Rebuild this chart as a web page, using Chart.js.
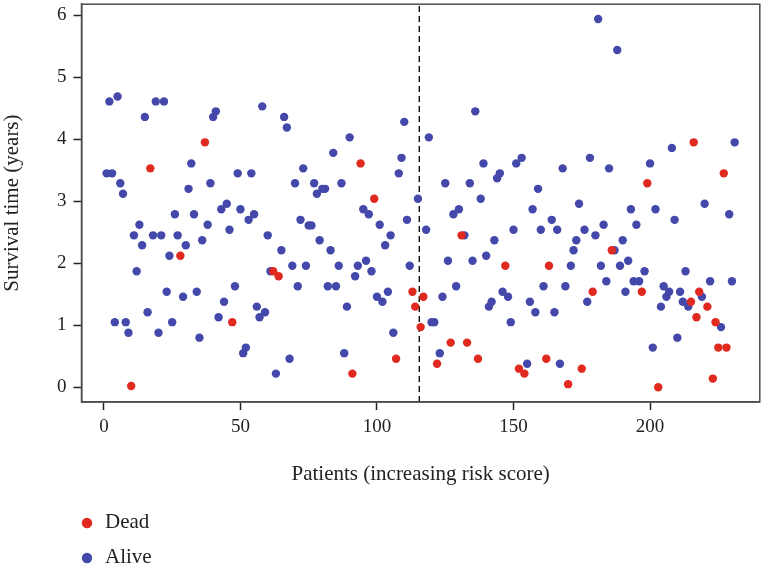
<!DOCTYPE html>
<html>
<head>
<meta charset="utf-8">
<title>Survival time by patient risk score</title>
<script src="https://cdn.jsdelivr.net/npm/chart.js@4.4.0/dist/chart.umd.min.js"></script>
<style>
  html, body { margin: 0; padding: 0; background: #fff; }
</style>
</head>
<body>
<canvas id="riskChart" width="764" height="572"></canvas>
<script>
// Survival time (years) per patient, patients sorted by increasing risk score
const survivalYears = [
  3.45, 4.61, 3.45, 1.05, 4.69, 3.29, 3.12, 1.05, 0.88, 0.02,
  2.45, 1.87, 2.62, 2.29, 4.36, 1.21, 3.53, 2.45, 4.61, 0.88,
  2.45, 4.61, 1.54, 2.12, 1.05, 2.79, 2.45, 2.12, 1.46, 2.29,
  3.20, 3.61, 2.79, 1.54, 0.80, 2.37, 3.95, 2.62, 3.29, 4.36,
  4.45, 1.13, 2.87, 1.38, 2.96, 2.54, 1.05, 1.63, 3.45, 2.87,
  0.55, 0.64, 2.70, 3.45, 2.79, 1.30, 1.13, 4.53, 1.21, 2.45,
  1.87, 1.87, 0.22, 1.79, 2.21, 4.36, 4.19, 0.46, 1.96, 3.29,
  1.63, 2.70, 3.53, 1.96, 2.61, 2.61, 3.29, 3.12, 2.37, 3.20,
  3.20, 1.63, 2.21, 3.78, 1.63, 1.96, 3.29, 0.55, 1.30, 4.03,
  0.22, 1.79, 1.96, 3.61, 2.87, 2.04, 2.79, 1.87, 3.04, 1.46,
  2.62, 1.38, 2.29, 1.54, 2.45, 0.88, 0.46, 3.45, 3.70, 4.28,
  2.70, 1.96, 1.54, 1.30, 3.04, 0.97, 1.46, 2.54, 4.03, 1.05,
  1.05, 0.38, 0.55, 1.46, 3.29, 2.04, 0.72, 2.79, 1.63, 2.87,
  2.45, 2.45, 0.72, 3.29, 2.04, 4.45, 0.46, 3.04, 3.61, 2.12,
  1.30, 1.38, 2.37, 3.37, 3.45, 1.54, 1.96, 1.46, 1.05, 2.54,
  3.61, 0.30, 3.70, 0.22, 0.38, 1.38, 2.87, 1.21, 3.20, 2.54,
  1.63, 0.46, 1.96, 2.70, 1.21, 2.54, 0.38, 3.53, 1.63, 0.05,
  1.96, 2.21, 2.37, 2.96, 0.30, 2.54, 1.38, 3.70, 1.54, 2.45,
  5.94, 1.96, 2.62, 1.71, 3.53, 2.21, 2.21, 5.44, 1.96, 2.37,
  1.54, 2.04, 2.87, 1.71, 2.62, 1.71, 1.54, 1.87, 3.29, 3.61,
  0.64, 2.87, 0.00, 1.30, 1.63, 1.46, 1.54, 3.86, 2.70, 0.80,
  1.54, 1.38, 1.87, 1.30, 1.38, 3.95, 1.13, 1.54, 1.46, 2.96,
  1.30, 1.71, 0.14, 1.05, 0.64, 0.97, 3.45, 0.64, 2.79, 1.71,
  3.95
];

// 1 = dead, 0 = alive (same order as survivalYears)
const deadStatus = [
  0, 0, 0, 0, 0, 0, 0, 0, 0, 1,
  0, 0, 0, 0, 0, 0, 1, 0, 0, 0,
  0, 0, 0, 0, 0, 0, 0, 1, 0, 0,
  0, 0, 0, 0, 0, 0, 1, 0, 0, 0,
  0, 0, 0, 0, 0, 0, 1, 0, 0, 0,
  0, 0, 0, 0, 0, 0, 0, 0, 0, 0,
  0, 1, 0, 1, 0, 0, 0, 0, 0, 0,
  0, 0, 0, 0, 0, 0, 0, 0, 0, 0,
  0, 0, 0, 0, 0, 0, 0, 0, 0, 0,
  1, 0, 0, 1, 0, 0, 0, 0, 1, 0,
  0, 0, 0, 0, 0, 0, 1, 0, 0, 0,
  0, 0, 1, 1, 0, 1, 1, 0, 0, 0,
  0, 1, 0, 0, 0, 0, 1, 0, 0, 0,
  1, 0, 1, 0, 0, 0, 1, 0, 0, 0,
  0, 0, 0, 0, 0, 0, 1, 0, 0, 0,
  0, 1, 0, 1, 0, 0, 0, 0, 0, 0,
  0, 1, 1, 0, 0, 0, 0, 0, 0, 1,
  0, 0, 0, 0, 1, 0, 0, 0, 1, 0,
  0, 0, 0, 0, 0, 1, 0, 0, 0, 0,
  0, 0, 0, 0, 0, 0, 1, 0, 1, 0,
  0, 0, 1, 0, 0, 0, 0, 0, 0, 0,
  0, 0, 0, 0, 1, 1, 1, 1, 0, 0,
  1, 0, 1, 1, 1, 0, 1, 1, 0, 0,
  0
];

const cutoffPatient = 115.5;   // median risk score split
const xTicks = [0, 50, 100, 150, 200];
const yTicks = [0, 1, 2, 3, 4, 5, 6];
const statusLabels = ['Dead', 'Alive'];

const RED = '#e0291f';
const BLUE = '#4348aa';
const FONT = '"Liberation Serif", "Times New Roman", serif';
const TEXT = '#222';
const AXIS = '#4d4d4d';

// R-style axis range: data range expanded by 4% on each side
const xMin = 1 - 0.04 * (survivalYears.length - 1);
const xMax = survivalYears.length + 0.04 * (survivalYears.length - 1);
const yTop = Math.max(...survivalYears);
const yMin = -0.04 * yTop;
const yMax = yTop * 1.04;

const points = survivalYears.map((y, i) => ({ x: i + 1, y: y }));
const deadPoints = points.filter((p, i) => deadStatus[i] === 1);
const alivePoints = points.filter((p, i) => deadStatus[i] === 0);

// box around the plot area + stacked legend below the x axis title
const framePlugin = {
    id: 'frame',
    afterDraw(chart) {
        const { ctx, chartArea } = chart;
        ctx.save();
        ctx.strokeStyle = AXIS;
        ctx.lineWidth = 1.5;
        ctx.strokeRect(chartArea.left, chartArea.top,
            chartArea.right - chartArea.left, chartArea.bottom - chartArea.top);

        ctx.font = '21px ' + FONT;
        ctx.textBaseline = 'middle';
        chart.data.datasets.filter(ds => statusLabels.includes(ds.label)).forEach((ds, i) => {
            const y = chartArea.bottom + 120 + i * 35;
            ctx.fillStyle = ds.backgroundColor;
            ctx.beginPath();
            ctx.arc(87, y + 1, 5.2, 0, Math.PI * 2);
            ctx.fill();
            ctx.fillStyle = TEXT;
            ctx.fillText(ds.label, 105, y);
        });
        ctx.restore();
    }
};

new Chart(document.getElementById('riskChart'), {
    type: 'scatter',
    data: {
        datasets: [
            {
                label: statusLabels[0],
                data: deadPoints,
                backgroundColor: RED,
                borderWidth: 0,
                pointRadius: 4.2,
            },
            {
                label: statusLabels[1],
                data: alivePoints,
                backgroundColor: BLUE,
                borderWidth: 0,
                pointRadius: 4.2,
            },
            {
                type: 'line',
                label: 'cutoff',
                data: [{ x: cutoffPatient, y: yMin }, { x: cutoffPatient, y: yMax }],
                borderColor: '#111',
                borderWidth: 1.4,
                borderDash: [6, 4],
                pointRadius: 0,
                fill: false,
            },
        ]
    },
    options: {
        responsive: false,
        animation: false,
        devicePixelRatio: 1,
        layout: { padding: { top: 2.5, right: 4, bottom: 85, left: 0 } },
        plugins: {
            legend: { display: false },
            tooltip: { enabled: false },
        },
        scales: {
            x: {
                type: 'linear',
                min: xMin,
                max: xMax,
                afterBuildTicks: s => { s.ticks = xTicks.map(v => ({ value: v })); },
                afterFit: s => { s.height = 85; s.paddingLeft = 0; s.paddingRight = 0; },
                grid: { display: true, drawOnChartArea: false, drawTicks: true, tickLength: 8, tickWidth: 1.5, tickColor: TEXT },
                border: { display: true, color: AXIS, width: 1.5 },
                ticks: { color: TEXT, font: { family: FONT, size: 19 }, padding: 6, maxRotation: 0 },
                title: {
                    display: true,
                    text: 'Patients (increasing risk score)',
                    color: TEXT,
                    font: { family: FONT, size: 21 },
                    padding: { top: 0, bottom: 0 },
                },
            },
            y: {
                type: 'linear',
                min: yMin,
                max: yMax,
                afterBuildTicks: s => { s.ticks = yTicks.map(v => ({ value: v })); },
                afterFit: s => { s.width = 81.5; s.paddingTop = 0; s.paddingBottom = 0; },
                grid: { display: true, drawOnChartArea: false, drawTicks: true, tickLength: 8, tickWidth: 1.5, tickColor: TEXT },
                border: { display: true, color: AXIS, width: 1.5 },
                ticks: { color: TEXT, font: { family: FONT, size: 19 }, padding: 7 },
                title: {
                    display: true,
                    text: 'Survival time (years)',
                    color: TEXT,
                    font: { family: FONT, size: 21 },
                    padding: { top: 0, bottom: 0 },
                },
            },
        }
    },
    plugins: [framePlugin]
});
</script>
</body>
</html>
